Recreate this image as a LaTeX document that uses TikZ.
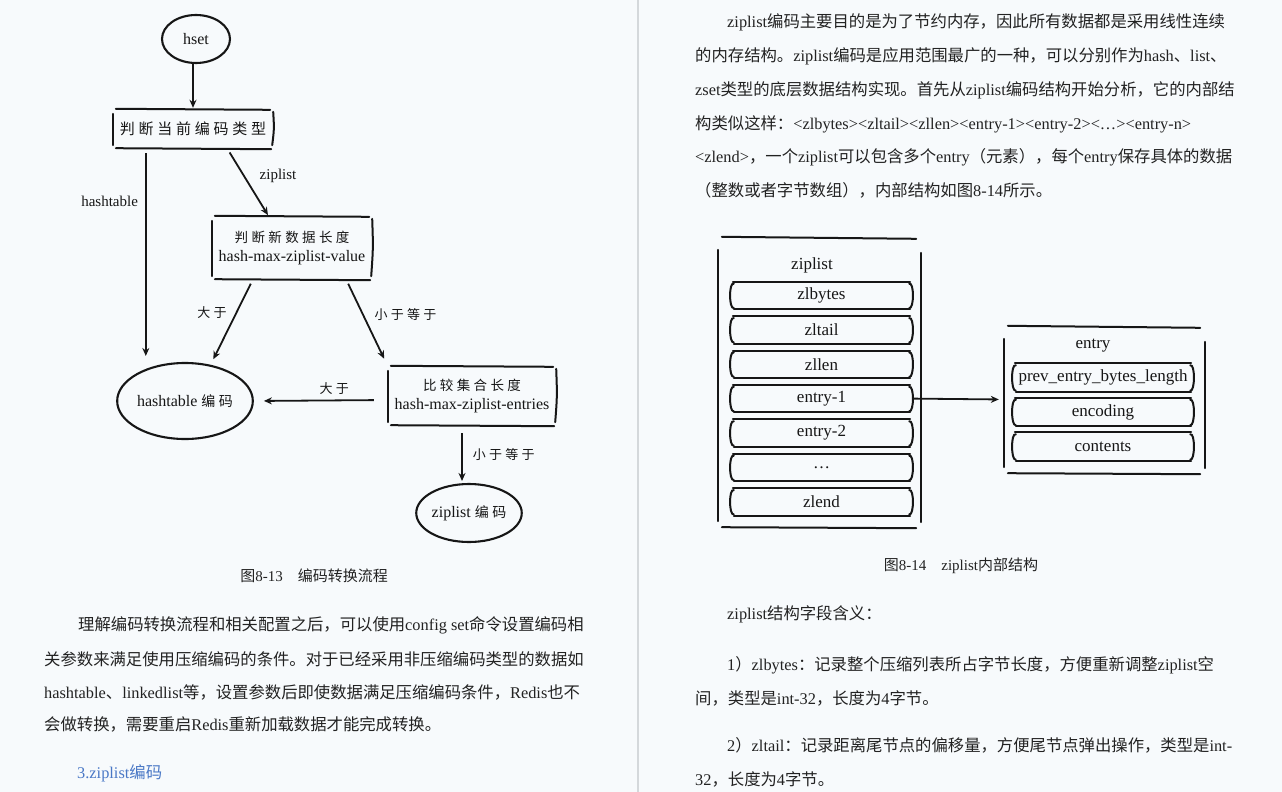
\documentclass[tikz,border=0pt]{standalone}
\usepackage{fontspec}
\setmainfont{Liberation Serif}
\newfontfamily\zh{Noto Sans CJK SC}
\newfontfamily\zhhand{Noto Sans CJK SC}[LetterSpace=25]
\usepackage{xcolor}
\definecolor{cPage}{HTML}{F7FAFC}
\definecolor{cInk}{HTML}{161616}
\definecolor{cText}{HTML}{222222}
\definecolor{cLink}{HTML}{4A78C6}
\definecolor{cFold}{HTML}{D4D8DB}
\usepackage{tikz}
\usetikzlibrary{positioning, arrows.meta, shapes.geometric}

% latin words inside the chinese lines
\newcommand{\en}[1]{{\rmfamily #1}}

% sketchy frame round a flow box
\newcommand{\handbox}[1]{%
  \draw[hand] ([xshift=3pt,yshift=1pt]#1.north west) -- ([xshift=-3pt]#1.north east);
  \draw[hand] ([xshift=3pt]#1.south west) -- ([xshift=-2pt,yshift=-1pt]#1.south east);
  \draw[hand] ([yshift=-4pt]#1.north west) -- ([yshift=3pt]#1.south west);
  \draw[hand] ([yshift=-2pt]#1.north east) .. controls ([xshift=1pt]#1.east) .. ([xshift=-1pt,yshift=3pt]#1.south east);}

% row with brace-like sides
\newcommand{\rowframe}[1]{%
  \draw[hand] ([xshift=3pt]#1.north west) -- ([xshift=-3pt]#1.north east);
  \draw[hand] ([xshift=4pt]#1.south west) -- ([xshift=-3pt]#1.south east);
  \draw[hand] ([xshift=4pt,yshift=-2pt]#1.north west) .. controls ([xshift=-1pt]#1.north west) and ([xshift=-1pt]#1.south west) .. ([xshift=4pt,yshift=1pt]#1.south west);
  \draw[hand] ([xshift=-4pt,yshift=-2pt]#1.north east) .. controls ([xshift=1pt]#1.north east) and ([xshift=1pt]#1.south east) .. ([xshift=-4pt,yshift=1pt]#1.south east);}

% container: four loose strokes
\newcommand{\openframe}[1]{%
  \draw[hand] ([xshift=4pt]#1.north west) -- ([xshift=-5pt,yshift=-2pt]#1.north east);
  \draw[hand] ([xshift=4pt]#1.south west) -- ([xshift=-5pt,yshift=-1pt]#1.south east);
  \draw[hand] ([yshift=-13pt]#1.north west) -- ([yshift=6pt]#1.south west);
  \draw[hand] ([yshift=-16pt]#1.north east) -- ([yshift=5pt]#1.south east);}

\begin{document}
\begin{tikzpicture}[x=1pt, y=-1pt,
    hand/.style={draw=cInk, line width=2pt, line cap=round},
    arr/.style={-{Stealth[length=8pt,width=7pt]}, line width=1.8pt, draw=cInk},
    blob/.style={ellipse, draw=cInk, line width=2.1pt, inner sep=0pt, text=cInk,
                 font=\fontsize{16}{18}\selectfont},
    flowbox/.style={inner sep=0pt, align=center, text=cInk,
                    font=\fontsize{16}{19}\selectfont},
    rowbox/.style={inner sep=0pt, minimum height=27pt, text=cInk,
                   font=\fontsize{17}{19}\selectfont},
    lbl/.style={inner sep=1pt, text=cInk, font=\fontsize{15}{17}\selectfont},
    zlbl/.style={inner sep=1pt, text=cInk, font=\zhhand\fontsize{13}{15}\selectfont},
    para/.style={anchor=west, inner sep=0pt, text=cText, font=\zh\fontsize{16.35}{20}\selectfont},
    captext/.style={inner sep=0pt, text=cText, font=\zh\fontsize{15}{17}\selectfont}
]
\useasboundingbox (0,0) rectangle (1282,792);
\fill[cPage] (0,0) rectangle (1282,792);
\draw[cFold, line width=1.2pt] (638,0) -- (638,792);

% ---- left page: flow
\node[blob, minimum width=68pt, minimum height=48pt] (hset) at (196,39) {hset};
\node[flowbox, minimum width=160pt, minimum height=38pt] (t1) at (193,129)
    {{\zhhand\fontsize{15}{17}\selectfont 判断当前编码类型}};
\node[flowbox, minimum width=160pt, minimum height=62pt] (t2) at (292,248)
    {{\zhhand\fontsize{13.5}{17}\selectfont 判断新数据长度}\\hash-max-ziplist-value};
\node[flowbox, minimum width=168pt, minimum height=58pt] (t3) at (472,396)
    {{\zhhand\fontsize{13.5}{17}\selectfont 比较集合长度}\\hash-max-ziplist-entries};
\node[blob, minimum width=122pt, minimum height=76pt] (ht) at (185,401)
    {hashtable {\zhhand\fontsize{14}{16}\selectfont 编码}};
\node[blob, minimum width=102pt, minimum height=58pt] (zl) at (469,513)
    {ziplist {\zhhand\fontsize{14}{16}\selectfont 编码}};
\handbox{t1}
\handbox{t2}
\handbox{t3}

\draw[arr, shorten >=2pt] (t1.north |- hset.south) -- (t1.north);
\draw[arr, shorten <=5pt, shorten >=6pt] ([xshift=33pt]t1.south west)
    -- ([xshift=33pt]t1.south west |- ht.north) node[lbl, pos=0.25, left=6pt] {hashtable};
\draw[arr, shorten <=5pt, shorten >=2pt] ([xshift=34pt]t1.south)
    -- ([xshift=-23pt]t2.north) node[lbl, pos=0.4, right=14pt] {ziplist};
\draw[arr, shorten <=5pt, shorten >=3pt] ([xshift=-39pt]t2.south)
    -- ([xshift=27pt]ht.north) node[zlbl, pos=0.4, left=8pt] {大于};
\draw[arr, shorten <=5pt, shorten >=9pt] ([xshift=54pt]t2.south)
    -- ([xshift=-84pt]t3.north) node[zlbl, pos=0.4, right=10pt] {小于等于};
\draw[arr, shorten <=14pt, shorten >=10pt] ([yshift=-4pt]t3.west)
    -- (ht.east) node[zlbl, pos=0.4, above=4pt] {大于};
\draw[arr, shorten <=8pt, shorten >=2pt] ([xshift=-10pt]t3.south)
    -- ([xshift=-10pt]t3.south |- zl.north) node[zlbl, midway, right=9pt] {小于等于};

\node[captext] (c13) at (314,576) {图\en{8-13}\quad 编码转换流程};

\node[para] (l1) at (78,625) {理解编码转换流程和相关配置之后，可以使用\en{config set}命令设置编码相};
\node[para] (l2) at (44,659) {关参数来满足使用压缩编码的条件。对于已经采用非压缩编码类型的数据如};
\node[para] (l3) at (44,692) {\en{hashtable}、\en{linkedlist}等，设置参数后即使数据满足压缩编码条件，\en{Redis}也不};
\node[para] (l4) at (44,724) {会做转换，需要重启\en{Redis}重新加载数据才能完成转换。};
\node[para, text=cLink] (sec) at (77,773) {\en{3.ziplist}编码};

% ---- right page: text
\node[para] (r1) at (727,22) {\en{ziplist}编码主要目的是为了节约内存，因此所有数据都是采用线性连续};
\node[para] (r2) at (695,56) {的内存结构。\en{ziplist}编码是应用范围最广的一种，可以分别作为\en{hash}、\en{list}、};
\node[para] (r3) at (695,90) {\en{zset}类型的底层数据结构实现。首先从\en{ziplist}编码结构开始分析，它的内部结};
\node[para] (r4) at (695,124) {构类似这样：\en{<zlbytes><zltail><zllen><entry-1><entry-2><\dots><entry-n>}};
\node[para] (r5) at (695,157) {\en{<zlend>}，一个\en{ziplist}可以包含多个\en{entry}（元素），每个\en{entry}保存具体的数据};
\node[para] (r6) at (695,190) {（整数或者字节数组），内部结构如图\en{8-14}所示。};

% ---- right page: ziplist layout
\node[minimum width=203pt, minimum height=290pt] (zip) at (819.5,382) {};
\node[rowbox] (zt) at (812,265) {ziplist};
\foreach \lbl [count=\i] in {zlbytes, zltail, zllen, entry-1, entry-2, \dots, zlend} {
  \node[rowbox, minimum width=183pt] (z\i) at (821.5,261+34.4*\i) {\lbl};
  \rowframe{z\i}
}
\openframe{zip}

\node[minimum width=201pt, minimum height=147pt] (ent) at (1104.5,399.5) {};
\node[rowbox] (et) at (1093,346) {entry};
\foreach \lbl [count=\i] in {prev\_entry\_bytes\_length, encoding, contents} {
  \node[rowbox, minimum width=182pt, minimum height=28pt] (e\i) at (1103,343+34.5*\i) {\lbl};
  \rowframe{e\i}
}
\openframe{ent}

\draw[arr, shorten >=5pt] (z4.east) -- (ent.west);

\node[captext] (c14) at (961,566) {图\en{8-14}\quad\en{ziplist}内部结构};

\node[para] (s0) at (727,614) {\en{ziplist}结构字段含义：};
\node[para] (s1) at (727,665) {\en{1}）\en{zlbytes}：记录整个压缩列表所占字节长度，方便重新调整\en{ziplist}空};
\node[para] (s2) at (695,698) {间，类型是\en{int-32}，长度为\en{4}字节。};
\node[para] (s3) at (727,745) {\en{2}）\en{zltail}：记录距离尾节点的偏移量，方便尾节点弹出操作，类型是\en{int-}};
\node[para] (s4) at (695,779) {\en{32}，长度为\en{4}字节。};
\end{tikzpicture}
\end{document}
